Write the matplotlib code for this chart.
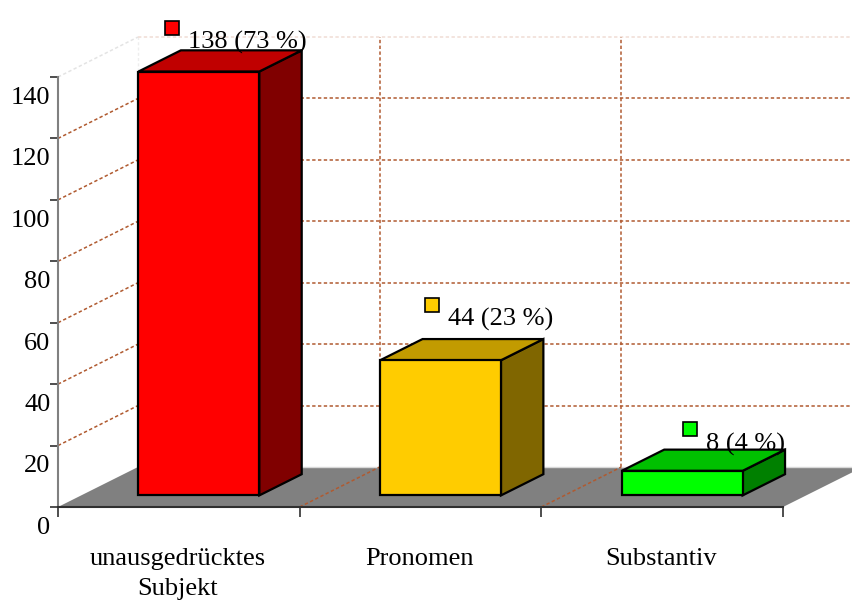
import matplotlib
matplotlib.use("Agg")
import matplotlib.pyplot as plt
from matplotlib.patches import Polygon
from matplotlib.transforms import ScaledTranslation

# ---- data ----
categories = ["unausgedrücktes\nSubjekt", "Pronomen", "Substantiv"]
values = [138, 44, 8]
labels = ["138 (73 %)", "44 (23 %)", "8 (4 %)"]
yticks = [0, 20, 40, 60, 80, 100, 120, 140]

# ---- style ----
front_cols = ["#FF0000", "#FFCC00", "#00FF00"]
top_cols = ["#C00000", "#C29B00", "#00C000"]
side_cols = ["#800000", "#806600", "#008000"]
grid_col = "#B05A30"
FONT = "Liberation Serif"
FS = 19

W, H = 853, 601
fig = plt.figure(figsize=(W / 100, H / 100), dpi=100)
# front plane: x 0..3 -> px 58..783, y 0..140 -> px 507..77
ax = fig.add_axes([58 / W, (H - 507) / H, (783 - 58) / W, (507 - 77) / H])
ax.set_xlim(0, 3)
ax.set_ylim(0, 140)

# depth vector in data units (80 px right, 40 px up)
px_x = (783 - 58) / 3.0
px_y = (507 - 77) / 140.0
DX, DY = 80 / px_x, 40 / px_y

ncat = len(categories)
ymax = yticks[-1]

# floor
ax.add_patch(Polygon([(0, 0), (ncat, 0), (ncat + DX, DY), (DX, DY)],
                     closed=True, facecolor="#808080", edgecolor="none",
                     zorder=1, clip_on=False))
# back wall bottom edge
ax.plot([DX, ncat + DX], [DY, DY], color="#D8D8D8", lw=1.0, zorder=1.5, clip_on=False)

dash = (0, (2.2, 1.6))
# horizontal gridlines on back wall and side wall
for v in yticks[1:]:
    c = grid_col if v < ymax else "#F0DCD4"
    c2 = grid_col if v < ymax else "#E4E4E4"
    ax.plot([DX, ncat + DX], [v + DY, v + DY], color=c, lw=1.1, ls=dash,
            zorder=1, clip_on=False)
    ax.plot([0, DX], [v, v + DY], color=c2, lw=1.1, ls=dash,
            zorder=1, clip_on=False)
# vertical gridlines on back wall + lines across floor
for k in range(1, ncat):
    ax.plot([k + DX, k + DX], [DY, ymax + DY], color=grid_col, lw=1.1, ls=dash,
            zorder=1, clip_on=False)
    ax.plot([k, k + DX], [0, DY], color=grid_col, lw=1.1, ls=dash,
            zorder=1.6, clip_on=False)
ax.plot([DX, DX], [DY, ymax + DY], color="#EEEEEE", lw=1.0, ls=dash,
        zorder=0.9, clip_on=False)

# bars
center, width = 0.487, 0.50
d0, db = 0.29, 0.53
for i, v in enumerate(values):
    x0 = i + center - width / 2 + d0 * DX
    x1 = x0 + width
    y0 = d0 * DY
    y1 = v + d0 * DY
    bx, by = db * DX, db * DY
    kw = dict(closed=True, edgecolor="black", lw=1.6, joinstyle="miter",
              clip_on=False, zorder=3)
    ax.add_patch(Polygon([(x1, y0), (x1 + bx, y0 + by), (x1 + bx, y1 + by), (x1, y1)],
                         facecolor=side_cols[i], **kw))
    ax.add_patch(Polygon([(x0, y1), (x1, y1), (x1 + bx, y1 + by), (x0 + bx, y1 + by)],
                         facecolor=top_cols[i], **kw))
    ax.add_patch(Polygon([(x0, y0), (x1, y0), (x1, y1), (x0, y1)],
                         facecolor=front_cols[i], **kw))

# data labels with legend keys
label_dx = [0.538, 0.614, 0.681]
label_dy = [13.2, 16.9, 12.5]
for i, v in enumerate(values):
    tx, ty = i + label_dx[i], v + label_dy[i]
    ax.text(tx, ty, labels[i], fontsize=FS, family=FONT, ha="left", va="center",
            zorder=5, clip_on=False)
    ax.plot([tx], [ty], marker="s", ms=10.5, mfc=front_cols[i], mec="black",
            mew=1.2, zorder=5, clip_on=False,
            transform=ax.transData + ScaledTranslation(-0.16, 0.15, fig.dpi_scale_trans))

# axes
for s in ["top", "right"]:
    ax.spines[s].set_visible(False)
ax.spines["left"].set_color("#808080")
ax.spines["left"].set_linewidth(1.5)
ax.spines["bottom"].set_color("#303030")
ax.spines["bottom"].set_linewidth(1.5)
ax.set_yticks(yticks)
ax.set_yticklabels([])
ax.tick_params(axis="y", length=6, width=1.2, color="#303030", direction="out")
ax.set_xticks(range(ncat + 1))
ax.set_xticklabels([])
ax.tick_params(axis="x", length=7, width=1.2, color="#303030", direction="out")

for v in yticks:
    ax.annotate(str(v), xy=(0, v), xycoords=("axes fraction", "data"),
                xytext=(-5.5, -15), textcoords="offset points",
                ha="right", va="center", fontsize=FS, family=FONT)
for i, c in enumerate(categories):
    ax.annotate(c, xy=(i + 0.5, 0), xycoords="data",
                xytext=(-1, -29.5), textcoords="offset points",
                ha="center", va="top", fontsize=FS, family=FONT,
                linespacing=1.5)

fig.savefig("out.png", dpi=100)
